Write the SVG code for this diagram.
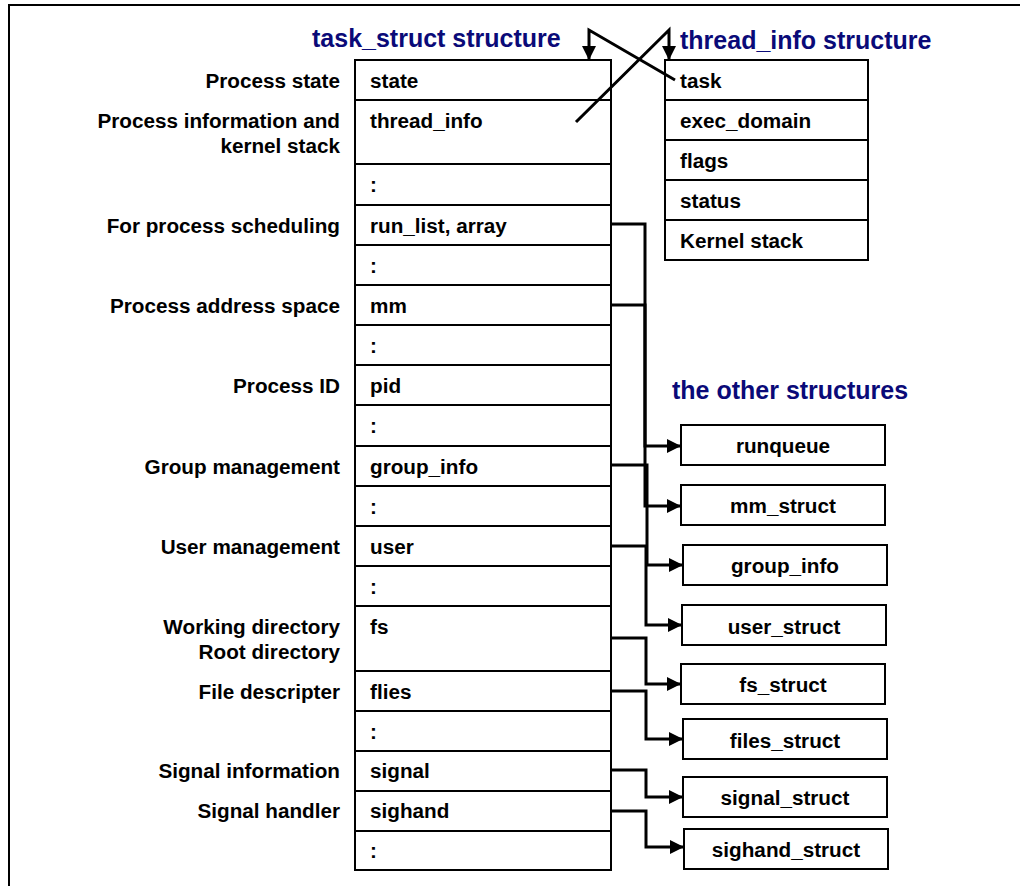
<svg xmlns="http://www.w3.org/2000/svg" width="1020" height="886" viewBox="0 0 1020 886">
<defs>
<style>
text{font-family:"Liberation Sans",Arial,sans-serif;font-weight:bold;font-size:20.7px;fill:#000}
.title{font-size:25px;fill:#0a0a78}
.lbl{text-anchor:end}
.mid{text-anchor:middle}
.box{fill:#fff;stroke:#000;stroke-width:2}
.sep{stroke:#000;stroke-width:2}
.con{fill:none;stroke:#000;stroke-width:3;marker-end:url(#ah)}
</style>
<marker id="ah" markerUnits="userSpaceOnUse" markerWidth="16" markerHeight="14" refX="14" refY="7" orient="auto">
<path d="M0,0 L14,7 L0,14 Z" fill="#000"/>
</marker>
</defs>
<rect width="1020" height="886" fill="#fff"/>
<path d="M9,886 V5 H1020" fill="none" stroke="#000" stroke-width="2"/>

<g id="titles">
<text class="title" x="312" y="47">task_struct structure</text>
<text class="title" x="680" y="49">thread_info structure</text>
<text class="title" x="672" y="399">the other structures</text>
</g>

<g id="labels">
<text class="lbl" x="340" y="88">Process state</text>
<text class="lbl" x="340" y="128">Process information and</text>
<text class="lbl" x="340" y="153">kernel stack</text>
<text class="lbl" x="340" y="233">For process scheduling</text>
<text class="lbl" x="340" y="313">Process address space</text>
<text class="lbl" x="340" y="393">Process ID</text>
<text class="lbl" x="340" y="474">Group management</text>
<text class="lbl" x="340" y="554">User management</text>
<text class="lbl" x="340" y="634">Working directory</text>
<text class="lbl" x="340" y="659">Root directory</text>
<text class="lbl" x="340" y="699">File descripter</text>
<text class="lbl" x="340" y="778">Signal information</text>
<text class="lbl" x="340" y="818">Signal handler</text>
</g>

<g id="task_struct">
<rect class="box" x="355" y="60" width="256" height="810"/>
<line class="sep" x1="355" y1="100" x2="611" y2="100"/>
<line class="sep" x1="355" y1="164" x2="611" y2="164"/>
<line class="sep" x1="355" y1="205" x2="611" y2="205"/>
<line class="sep" x1="355" y1="245" x2="611" y2="245"/>
<line class="sep" x1="355" y1="285" x2="611" y2="285"/>
<line class="sep" x1="355" y1="325" x2="611" y2="325"/>
<line class="sep" x1="355" y1="365" x2="611" y2="365"/>
<line class="sep" x1="355" y1="405" x2="611" y2="405"/>
<line class="sep" x1="355" y1="446" x2="611" y2="446"/>
<line class="sep" x1="355" y1="486" x2="611" y2="486"/>
<line class="sep" x1="355" y1="526" x2="611" y2="526"/>
<line class="sep" x1="355" y1="566" x2="611" y2="566"/>
<line class="sep" x1="355" y1="606" x2="611" y2="606"/>
<line class="sep" x1="355" y1="671" x2="611" y2="671"/>
<line class="sep" x1="355" y1="711" x2="611" y2="711"/>
<line class="sep" x1="355" y1="751" x2="611" y2="751"/>
<line class="sep" x1="355" y1="791" x2="611" y2="791"/>
<line class="sep" x1="355" y1="831" x2="611" y2="831"/>
<text x="370" y="88">state</text>
<text x="370" y="128">thread_info</text>
<text x="370" y="192">:</text>
<text x="370" y="233">run_list, array</text>
<text x="370" y="273">:</text>
<text x="370" y="313">mm</text>
<text x="370" y="353">:</text>
<text x="370" y="393">pid</text>
<text x="370" y="433">:</text>
<text x="370" y="474">group_info</text>
<text x="370" y="514">:</text>
<text x="370" y="554">user</text>
<text x="370" y="594">:</text>
<text x="370" y="634">fs</text>
<text x="370" y="699">flies</text>
<text x="370" y="739">:</text>
<text x="370" y="778">signal</text>
<text x="370" y="818">sighand</text>
<text x="370" y="858">:</text>
</g>

<g id="thread_info">
<rect class="box" x="665" y="60" width="203" height="200"/>
<line class="sep" x1="665" y1="100" x2="868" y2="100"/>
<line class="sep" x1="665" y1="140" x2="868" y2="140"/>
<line class="sep" x1="665" y1="180" x2="868" y2="180"/>
<line class="sep" x1="665" y1="220" x2="868" y2="220"/>
<text x="680" y="88">task</text>
<text x="680" y="128">exec_domain</text>
<text x="680" y="168">flags</text>
<text x="680" y="208">status</text>
<text x="680" y="248">Kernel stack</text>
</g>

<g id="runqueue"><rect class="box" x="681" y="425" width="204" height="40"/><text class="mid" x="783" y="453">runqueue</text></g>
<g id="mm_struct"><rect class="box" x="681" y="485" width="204" height="40"/><text class="mid" x="783" y="513">mm_struct</text></g>
<g id="group_info_s"><rect class="box" x="683" y="545" width="204" height="40"/><text class="mid" x="785" y="573">group_info</text></g>
<g id="user_struct"><rect class="box" x="682" y="605" width="204" height="40"/><text class="mid" x="784" y="634">user_struct</text></g>
<g id="fs_struct"><rect class="box" x="681" y="664" width="204" height="40"/><text class="mid" x="783" y="692">fs_struct</text></g>
<g id="files_struct"><rect class="box" x="683" y="719" width="204" height="40"/><text class="mid" x="785" y="748">files_struct</text></g>
<g id="signal_struct"><rect class="box" x="683" y="777" width="204" height="40"/><text class="mid" x="785" y="805">signal_struct</text></g>
<g id="sighand_struct"><rect class="box" x="684" y="829" width="204" height="40"/><text class="mid" x="786" y="857">sighand_struct</text></g>

<g id="connectors">
<polyline class="con" points="675,80 589,30 589,60"/>
<polyline class="con" points="576,122 669,30 669,60"/>
<polyline class="con" points="611,224 645,224 645,446 681,446"/>
<polyline class="con" points="611,305 645,305 645,506 681,506"/>
<polyline class="con" points="611,465 647,465 647,565 683,565"/>
<polyline class="con" points="611,546 646,546 646,625 682,625"/>
<polyline class="con" points="611,638 646,638 646,684 681,684"/>
<polyline class="con" points="611,691 646,691 646,739 683,739"/>
<polyline class="con" points="611,770 646,770 646,797 683,797"/>
<polyline class="con" points="611,811 646,811 646,847 684,847"/>
</g>
</svg>
